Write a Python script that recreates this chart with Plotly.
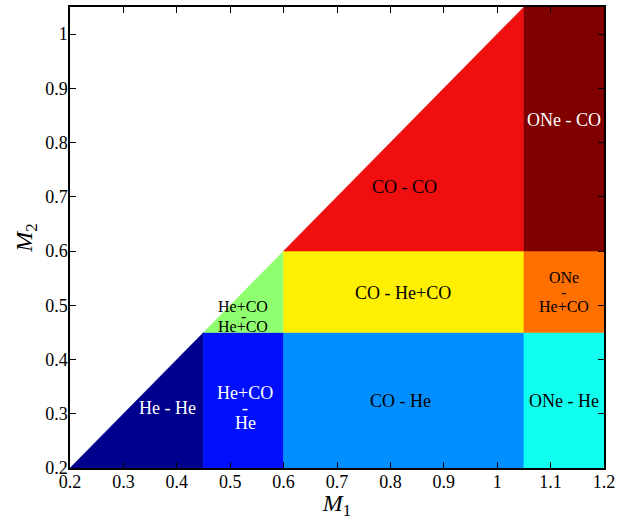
import plotly.graph_objects as go

# Boundaries (solar masses) of the white dwarf composition classes
m1_bounds = [0.2, 0.45, 0.6, 1.05, 1.2]
m2_bounds = [0.2, 0.45, 0.6, 1.05]
m1_types = ["He", "He+CO", "CO", "ONe"]
m2_types = ["He", "He+CO", "CO"]

# Cell colors (jet-like) indexed [m2 band][m1 band]
cell_colors = [
    ["#00008F", "#0010FF", "#008FFF", "#10FFEF"],
    [None, "#8FFF70", "#FFEF00", "#FF7000"],
    [None, None, "#EF0F0F", "#800000"],
]
# Label text colour per cell
label_colors = [
    ["white", "white", "black", "black"],
    [None, "black", "black", "black"],
    [None, None, "black", "white"],
]

FONT = "Times New Roman, Liberation Serif, DejaVu Serif, serif"

# label placement (style/layout): x, y, font size, line spacing px, lines
label_pos = {
    (0, 0): (0.382, 0.311, 18, 15, ["He - He"]),
    (0, 1): (0.528, 0.311, 18, 15, ["He+CO", "-", "He"]),
    (0, 2): (0.818, 0.323, 18, 15, ["CO - He"]),
    (0, 3): (1.125, 0.324, 18, 15, ["ONe - He"]),
    (1, 1): (0.524, 0.480, 16, 10, ["He+CO", "-", "He+CO"]),
    (1, 2): (0.824, 0.522, 18, 15, ["CO - He+CO"]),
    (1, 3): (1.125, 0.524, 16, 14.5, ["ONe", "-", "He+CO"]),
    (2, 2): (0.827, 0.719, 18, 15, ["CO - CO"]),
    (2, 3): (1.125, 0.842, 18, 15, ["ONe - CO"]),
}


def clip_cell(x0, x1, y0, y1):
    """Rectangle clipped to the half plane M2 <= M1."""
    rect = [(x0, y0), (x1, y0), (x1, y1), (x0, y1)]
    out = []
    n = len(rect)
    for i in range(n):
        p, q = rect[i], rect[(i + 1) % n]
        pin, qin = p[1] <= p[0] + 1e-12, q[1] <= q[0] + 1e-12
        if pin:
            out.append(p)
        if pin != qin:
            t = (p[1] - p[0]) / ((p[1] - p[0]) - (q[1] - q[0]))
            out.append((p[0] + t * (q[0] - p[0]), p[1] + t * (q[1] - p[1])))
    return out


fig = go.Figure()
for j in range(len(m2_types)):
    for i in range(len(m1_types)):
        col = cell_colors[j][i]
        if col is None:
            continue
        poly = clip_cell(m1_bounds[i], m1_bounds[i + 1], m2_bounds[j], m2_bounds[j + 1])
        if len(poly) < 3:
            continue
        xs = [p[0] for p in poly] + [poly[0][0]]
        ys = [p[1] for p in poly] + [poly[0][1]]
        fig.add_trace(go.Scatter(
            x=xs, y=ys, mode="lines", fill="toself", fillcolor=col,
            line=dict(width=0.5, color=col), hoverinfo="skip", showlegend=False,
        ))
        lx, ly, fs, sp, lines = label_pos[(j, i)]
        n = len(lines)
        for k, line in enumerate(lines):
            fig.add_annotation(
                x=lx, y=ly, text=line, showarrow=False,
                yshift=((n - 1) / 2 - k) * sp,
                font=dict(family=FONT, size=fs, color=label_colors[j][i]),
            )

axis_common = dict(
    showgrid=False, zeroline=False, showline=True, linecolor="black", linewidth=1.5,
    mirror="ticks", ticks="inside", ticklen=6, tickcolor="black", tickwidth=1,
    tickfont=dict(family=FONT, size=18, color="black"), ticklabelstandoff=-3,
)

fig.update_layout(
    width=632, height=520,
    margin=dict(l=70, r=28, t=5, b=52),
    plot_bgcolor="white", paper_bgcolor="white",
    font=dict(family=FONT),
    xaxis=dict(range=[0.2, 1.2], tickvals=[0.2, 0.3, 0.4, 0.5, 0.6, 0.7, 0.8, 0.9, 1.0, 1.1, 1.2],
               ticktext=["0.2", "0.3", "0.4", "0.5", "0.6", "0.7", "0.8", "0.9", "1", "1.1", "1.2"],
               title=dict(text="<i>M</i><sub>1</sub>", font=dict(family=FONT, size=24, color="black"), standoff=2),
               **axis_common),
    yaxis=dict(range=[0.2, 1.05], tickvals=[0.2, 0.3, 0.4, 0.5, 0.6, 0.7, 0.8, 0.9, 1.0],
               ticktext=["0.2", "0.3", "0.4", "0.5", "0.6", "0.7", "0.8", "0.9", "1"],
               title=dict(text="<i>M</i><sub>2</sub>", font=dict(family=FONT, size=24, color="black"), standoff=6),
               **axis_common),
)

fig.write_html("out.html", config={"displayModeBar": False},
               post_script="document.body.style.margin='0px';")
